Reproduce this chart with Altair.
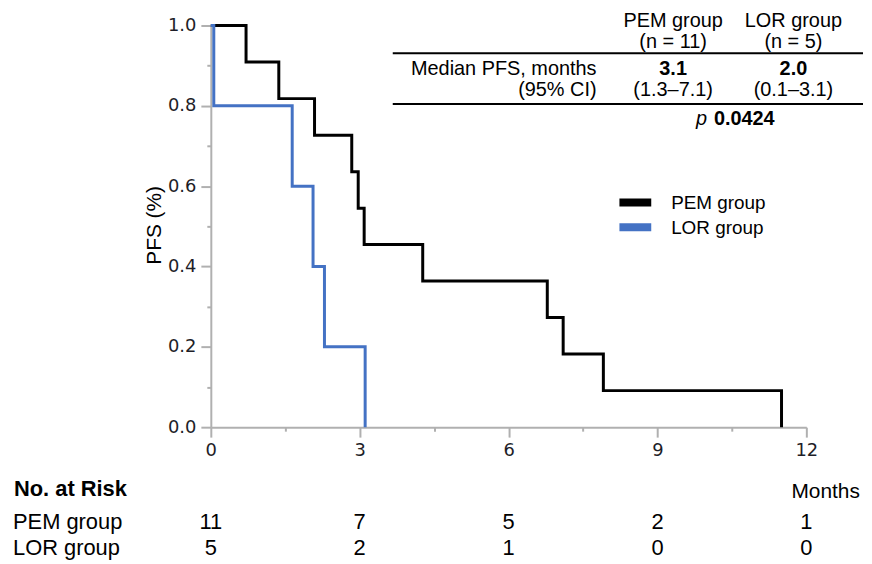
import altair as alt
import pandas as pd

# ---- data ----
groups = ["PEM group", "LOR group"]
colors = ["#000000", "#4472C4"]

pem_time = [0, 0.71, 1.37, 2.09, 2.84, 2.97, 3.09, 4.27, 6.78, 7.10, 7.91, 11.5]
pem_surv = [1.0, 0.909, 0.818, 0.727, 0.636, 0.545, 0.455, 0.364, 0.273, 0.182, 0.091, 0.0]
lor_time = [0, 0.06, 1.64, 2.06, 2.29, 3.11]
lor_surv = [1.0, 0.8, 0.6, 0.4, 0.2, 0.0]

risk_times = [0, 3, 6, 9, 12]
pem_risk = [11, 7, 5, 2, 1]
lor_risk = [5, 2, 1, 0, 0]

x_all_ticks = [0, 1.5, 3, 4.5, 6, 7.5, 9, 10.5, 12]
y_all_ticks = [0, 0.1, 0.2, 0.3, 0.4, 0.5, 0.6, 0.7, 0.8, 0.9, 1.0]

hdr_cols = ["PEM group", "LOR group"]
hdr_n = ["(n = 11)", "(n = 5)"]
median_vals = ["3.1", "2.0"]
ci_vals = ["(1.3\u20137.1)", "(0.1\u20133.1)"]
p_value = "0.0424"

ARIAL = "Liberation Sans"
AXIS_FONT = "DejaVu Sans"

rows = []
for i, (t, s) in enumerate(zip(pem_time, pem_surv)):
    rows.append({"group": groups[0], "time": t, "surv": s, "ord": i})
for i, (t, s) in enumerate(zip(lor_time, lor_surv)):
    rows.append({"group": groups[1], "time": t, "surv": s, "ord": i})
curves = pd.DataFrame(rows)

xscale = alt.Scale(domain=[0, 12], nice=False, zero=False)
yscale = alt.Scale(domain=[0, 1], nice=False)

x_axis = alt.Axis(
    values=x_all_ticks,
    labelExpr="datum.value % 3 === 0 ? datum.label : ''",
    tickSize=alt.condition("datum.value % 3 === 0", alt.value(10), alt.value(4)),
    labelPadding=4,
    labelFlush=False,
    labelOverlap=False,
    title=None,
)
y_axis = alt.Axis(
    values=y_all_ticks,
    format=".1f",
    labelExpr="round(datum.value * 10) % 2 === 0 ? datum.label : ''",
    tickSize=alt.condition("round(datum.value * 10) % 2 === 0", alt.value(10), alt.value(4)),
    labelPadding=5,
    labelFlush=False,
    labelOverlap=False,
    title=None,
)

lines = alt.Chart(curves).mark_line(interpolate="step-after", strokeWidth=3).encode(
    x=alt.X("time:Q", scale=xscale, axis=x_axis),
    y=alt.Y("surv:Q", scale=yscale, axis=y_axis),
    color=alt.Color("group:N", scale=alt.Scale(domain=groups, range=colors), legend=None),
    order="ord:Q",
)

layers = [lines]

# y title
layers.append(
    alt.Chart(pd.DataFrame({"t": ["PFS (%)"]})).mark_text(
        font=ARIAL, fontSize=21, angle=270, align="center", baseline="middle", color="black"
    ).encode(x=alt.value(-56), y=alt.value(201), text="t:N")
)

# legend (manual)
leg_y = [178, 203]
for g, c, yy in zip(groups, colors, leg_y):
    layers.append(
        alt.Chart(pd.DataFrame({"g": [g]})).mark_rule(strokeWidth=8, color=c).encode(
            x=alt.value(411), x2=alt.value(443), y=alt.value(yy)
        )
    )
    layers.append(
        alt.Chart(pd.DataFrame({"g": [g]})).mark_text(
            font=ARIAL, fontSize=19, align="left", baseline="middle", color="black"
        ).encode(x=alt.value(463), y=alt.value(yy + 1), text="g:N")
    )

# summary table
col_x = [465, 586]
for rule_y in [28, 79]:
    layers.append(
        alt.Chart(pd.DataFrame({"r": [rule_y]})).mark_rule(strokeWidth=2, color="black").encode(
            x=alt.value(183), x2=alt.value(656), y=alt.value(rule_y)
        )
    )
tbl = []
for cx, h, n, m, ci in zip(col_x, hdr_cols, hdr_n, median_vals, ci_vals):
    tbl.append({"x": cx, "y": 1, "t": h, "w": "normal"})
    tbl.append({"x": cx, "y": 23, "t": n, "w": "normal"})
    tbl.append({"x": cx, "y": 50, "t": m, "w": "bold"})
    tbl.append({"x": cx, "y": 71, "t": ci, "w": "normal"})
tbl_df = pd.DataFrame(tbl)
for w in ["normal", "bold"]:
    sub = tbl_df[tbl_df.w == w]
    layers.append(
        alt.Chart(sub).mark_text(
            font=ARIAL, fontSize=20, fontWeight=w, align="center", baseline="alphabetic", color="black"
        ).encode(x=alt.X("x:Q", scale=None), y=alt.Y("y:Q", scale=None), text="t:N")
    )
layers.append(
    alt.Chart(pd.DataFrame({"t": ["Median PFS, months", "(95% CI)"], "y": [50, 71]})).mark_text(
        font=ARIAL, fontSize=20, align="right", baseline="alphabetic", color="black"
    ).encode(x=alt.value(388), y=alt.Y("y:Q", scale=None), text="t:N")
)
layers.append(
    alt.Chart(pd.DataFrame({"t": ["p"]})).mark_text(
        font=ARIAL, fontSize=20, fontStyle="italic", align="left", baseline="alphabetic", color="black"
    ).encode(x=alt.value(488), y=alt.value(100), text="t:N")
)
layers.append(
    alt.Chart(pd.DataFrame({"t": [p_value]})).mark_text(
        font=ARIAL, fontSize=20, fontWeight="bold", align="left", baseline="alphabetic", color="black"
    ).encode(x=alt.value(506), y=alt.value(100), text="t:N")
)

# number at risk table
layers.append(
    alt.Chart(pd.DataFrame({"t": ["No. at Risk"]})).mark_text(
        font=ARIAL, fontSize=22, fontWeight="bold", align="left", baseline="alphabetic", color="black"
    ).encode(x=alt.value(-198), y=alt.value(473), text="t:N")
)
layers.append(
    alt.Chart(pd.DataFrame({"t": ["Months"]})).mark_text(
        font=ARIAL, fontSize=21, align="left", baseline="alphabetic", color="black"
    ).encode(x=alt.value(584), y=alt.value(475), text="t:N")
)
for g, counts, yy in zip(groups, [pem_risk, lor_risk], [506, 533]):
    layers.append(
        alt.Chart(pd.DataFrame({"t": [g]})).mark_text(
            font=ARIAL, fontSize=22, align="left", baseline="alphabetic", color="black"
        ).encode(x=alt.value(-199), y=alt.value(yy), text="t:N")
    )
    layers.append(
        alt.Chart(pd.DataFrame({"time": risk_times, "n": counts})).mark_text(
            font=ARIAL, fontSize=22, align="center", baseline="alphabetic", color="black"
        ).encode(x=alt.X("time:Q", scale=xscale), y=alt.value(yy), text="n:N")
    )

chart = alt.layer(*layers).properties(
    width=599,
    height=404,
    padding={"left": 204, "top": 16, "right": 58, "bottom": 136},
    autosize=alt.AutoSizeParams(type="none"),
).configure_view(stroke=None).configure_axis(
    grid=False,
    domainColor="#b0b0b0",
    domainWidth=2,
    tickColor="#b0b0b0",
    tickWidth=2,
    labelFont=AXIS_FONT,
    labelFontSize=18,
    labelColor="#1e1e28",
)

chart.save("out.html", embed_options={"renderer": "svg", "actions": False})
